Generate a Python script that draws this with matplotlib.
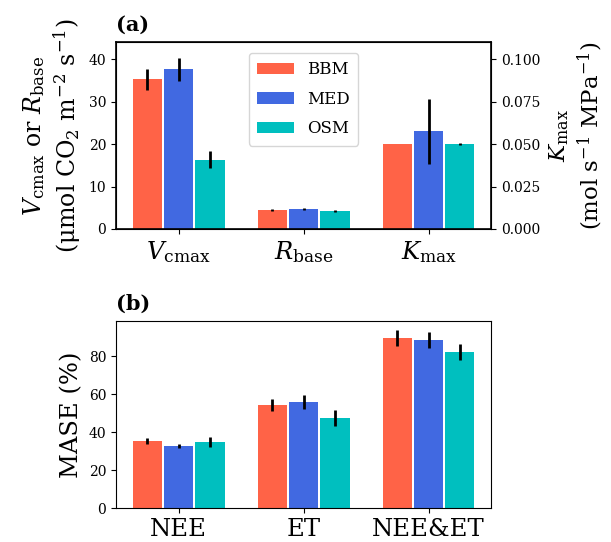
import matplotlib
matplotlib.use("Agg")
import matplotlib.pyplot as plt
import numpy as np

plt.rcParams['font.family'] = 'DejaVu Serif'
plt.rcParams['mathtext.fontset'] = 'dejavuserif'

models = ['BBM', 'MED', 'OSM']
colors = ['tomato', 'royalblue', 'c']

# panel (a): Vcmax, Rbase on left axis, Kmax on right axis
params = [r'$V_\mathrm{cmax}$', r'$R_\mathrm{base}$', r'$K_\mathrm{max}$']
vcmax = [35.3, 37.7, 16.3]
vcmax_err = [2.5, 2.7, 2.0]
rbase = [4.5, 4.7, 4.3]
rbase_err = [0.3, 0.2, 0.2]
kmax = [0.050, 0.0575, 0.050]
kmax_err = [0.0, 0.019, 0.0005]

# panel (b): MASE
targets = ['NEE', 'ET', 'NEE&ET']
mase = {
    'BBM': [35.2, 54.3, 89.4],
    'MED': [32.7, 55.8, 88.4],
    'OSM': [34.8, 47.4, 82.1],
}
mase_err = {
    'BBM': [1.5, 3.2, 4.2],
    'MED': [1.2, 3.5, 4.0],
    'OSM': [2.8, 4.1, 4.4],
}

width = 0.235
offsets = [-0.25, 0.0, 0.25]
ekw = dict(elinewidth=2.0, capsize=0, ecolor='black')

fig = plt.figure(figsize=(6.11, 5.42), dpi=100)
ax1 = fig.add_axes([0.190, 0.5775, 0.6137, 0.345])
ax2 = ax1.twinx()
ax3 = fig.add_axes([0.190, 0.0622, 0.6137, 0.3455])

# top panel
handles = []
for i, m in enumerate(models):
    h = ax1.bar([0 + offsets[i], 1 + offsets[i]], [vcmax[i], rbase[i]], width,
                yerr=[vcmax_err[i], rbase_err[i]], color=colors[i], label=m,
                error_kw=ekw)
    handles.append(h)
    ax2.bar(2 + offsets[i], kmax[i], width, yerr=kmax_err[i], color=colors[i],
            error_kw=ekw)

ax1.set_xlim(-0.5, 2.5)
ax1.set_ylim(0, 44.1)
ax2.set_ylim(0, 44.1 / 400)
ax1.set_yticks([0, 10, 20, 30, 40])
ax2.set_yticks([0, 0.025, 0.05, 0.075, 0.1])
ax2.set_yticklabels(['0.000', '0.025', '0.050', '0.075', '0.100'])
ax1.set_xticks([0, 1, 2])
ax1.set_xticklabels(params, fontsize=17.5)
ax1.tick_params(axis='y', labelsize=10)
ax2.tick_params(axis='y', labelsize=10)
for sp in ax2.spines.values():
    sp.set_linewidth(1.2)
ax1.set_ylabel(r'$V_\mathrm{cmax}$ or $R_\mathrm{base}$' + '\n' +
               r'($\mathrm{\mu}$mol CO$_2$ m$^{-2}$ s$^{-1}$)', fontsize=17)
ax2.set_ylabel(r'$K_\mathrm{max}$' + '\n' + r'(mol s$^{-1}$ MPa$^{-1}$)',
               fontsize=16.5, labelpad=5)
ax1.set_title('(a)', loc='left', fontweight='bold', fontsize=15, pad=8)
ax2.legend(handles=handles, loc='upper center', fontsize=12,
           handlelength=2.2, labelspacing=0.75, borderpad=0.5,
           bbox_to_anchor=(0.5, 0.985))

# bottom panel
x = np.arange(len(targets))
for i, m in enumerate(models):
    ax3.bar(x + offsets[i], mase[m], width, yerr=mase_err[m], color=colors[i],
            error_kw=ekw)
ax3.set_xlim(-0.5, 2.5)
ax3.set_ylim(0, 98.4)
ax3.set_yticks([0, 20, 40, 60, 80])
ax3.set_xticks(x)
ax3.set_xticklabels(targets, fontsize=17.5)
ax3.tick_params(axis='y', labelsize=10)
ax3.set_ylabel('MASE (%)', fontsize=17.5)
ax3.set_title('(b)', loc='left', fontweight='bold', fontsize=15, pad=8)

fig.savefig('out.png', dpi=100)
